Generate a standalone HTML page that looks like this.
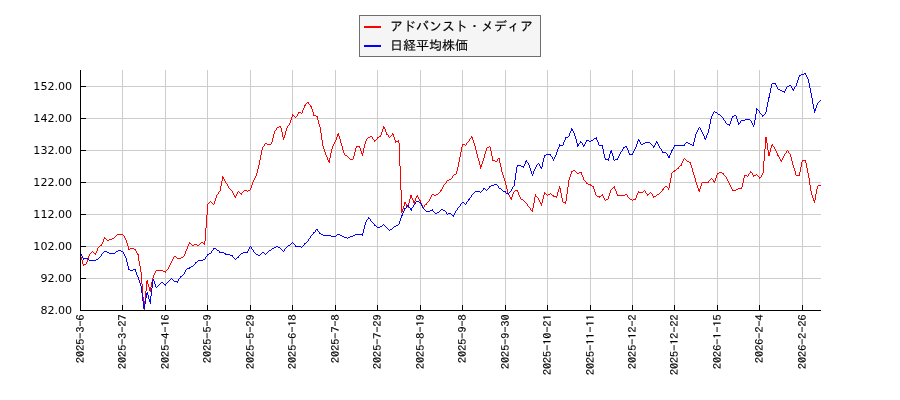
<!DOCTYPE html>
<html lang="ja"><head><meta charset="utf-8"><title>chart</title>
<style>html,body{margin:0;padding:0;background:#fff}svg{display:block}.yl{font-family:"DejaVu Sans","Liberation Sans",sans-serif;font-size:11.1px;fill:#000}.xl{font-family:"IPAGothic","Liberation Mono",monospace;font-size:12.15px;fill:#000;stroke:#000;stroke-width:0.18px}.lg{font-family:"Liberation Sans","IPAGothic","Noto Sans CJK JP",sans-serif;font-size:13px;fill:#000;stroke:#000;stroke-width:0.15px}</style></head><body>
<svg width="900" height="400" viewBox="0 0 900 400">
<rect width="900" height="400" fill="#fff"/>
<path d="M122.50,70.0 V310.5 M165.50,70.0 V310.5 M207.50,70.0 V310.5 M250.50,70.0 V310.5 M292.50,70.0 V310.5 M335.50,70.0 V310.5 M377.50,70.0 V310.5 M420.50,70.0 V310.5 M462.50,70.0 V310.5 M505.50,70.0 V310.5 M547.50,70.0 V310.5 M590.50,70.0 V310.5 M632.50,70.0 V310.5 M674.50,70.0 V310.5 M717.50,70.0 V310.5 M759.50,70.0 V310.5 M802.50,70.0 V310.5 M80.5,86.5 H821.0 M80.5,118.5 H821.0 M80.5,150.5 H821.0 M80.5,182.5 H821.0 M80.5,214.5 H821.0 M80.5,246.5 H821.0 M80.5,278.5 H821.0" stroke="#cccccc" stroke-width="1" fill="none"/>
<path d="M80,254v3h1v-3zM81,257v3h1v-3zM82,260v4h1v-4zM83,264v2h1v-2zM84,264v1h1v-1zM85,264v1h1v-1zM86,262v2h1v-2zM87,259v3h1v-3zM88,256v3h1v-3zM89,254v2h1v-2zM90,253v1h1v-1zM91,252v1h1v-1zM92,251v1h1v-1zM93,252v1h1v-1zM94,253v1h1v-1zM95,253v2h1v-2zM96,251v2h1v-2zM97,248v3h1v-3zM98,247v1h1v-1zM99,246v1h1v-1zM100,245v1h1v-1zM101,244v2h1v-2zM102,242v2h1v-2zM103,239v3h1v-3zM104,237v2h1v-2zM105,238v1h1v-1zM106,239v1h1v-1zM107,240v1h1v-1zM108,240v1h1v-1zM109,239v1h1v-1zM110,239v1h1v-1zM111,239v1h1v-1zM112,238v1h1v-1zM113,238v1h1v-1zM114,237v1h1v-1zM115,236v1h1v-1zM116,235v1h1v-1zM117,234v1h1v-1zM118,234v1h1v-1zM119,234v1h1v-1zM120,234v1h1v-1zM121,234v1h1v-1zM122,234v1h1v-1zM123,235v1h1v-1zM124,236v2h1v-2zM125,238v2h1v-2zM126,240v3h1v-3zM127,243v3h1v-3zM128,246v4h1v-4zM129,249v1h1v-1zM130,248v1h1v-1zM131,248v1h1v-1zM132,248v1h1v-1zM133,248v1h1v-1zM134,249v1h1v-1zM135,249v2h1v-2zM136,251v2h1v-2zM137,253v2h1v-2zM138,254v7h1v-7zM139,261v5h1v-5zM140,266v6h1v-6zM141,272v12h1v-12zM142,284v13h1v-13zM143,297v12h1v-12zM144,301v9h1v-9zM145,291v10h1v-10zM146,281v10h1v-10zM147,280v4h1v-4zM148,284v3h1v-3zM149,287v4h1v-4zM150,287v5h1v-5zM151,282v5h1v-5zM152,278v4h1v-4zM153,275v3h1v-3zM154,273v2h1v-2zM155,271v2h1v-2zM156,270v1h1v-1zM157,270v1h1v-1zM158,270v1h1v-1zM159,270v1h1v-1zM160,270v1h1v-1zM161,270v1h1v-1zM162,270v1h1v-1zM163,271v1h1v-1zM164,271v1h1v-1zM165,271v2h1v-2zM166,270v1h1v-1zM167,269v1h1v-1zM168,267v2h1v-2zM169,265v2h1v-2zM170,263v2h1v-2zM171,261v2h1v-2zM172,259v2h1v-2zM173,257v2h1v-2zM174,256v1h1v-1zM175,256v1h1v-1zM176,257v1h1v-1zM177,258v1h1v-1zM178,258v1h1v-1zM179,258v1h1v-1zM180,258v1h1v-1zM181,257v1h1v-1zM182,257v1h1v-1zM183,256v1h1v-1zM184,254v2h1v-2zM185,251v3h1v-3zM186,249v2h1v-2zM187,246v3h1v-3zM188,244v2h1v-2zM189,242v2h1v-2zM190,243v1h1v-1zM191,244v1h1v-1zM192,245v1h1v-1zM193,245v1h1v-1zM194,244v1h1v-1zM195,244v1h1v-1zM196,244v1h1v-1zM197,245v1h1v-1zM198,245v1h1v-1zM199,244v1h1v-1zM200,243v1h1v-1zM201,242v1h1v-1zM202,242v1h1v-1zM203,243v1h1v-1zM204,241v4h1v-4zM205,228v13h1v-13zM206,215v13h1v-13zM207,204v11h1v-11zM208,203v1h1v-1zM209,202v1h1v-1zM210,201v1h1v-1zM211,202v1h1v-1zM212,203v1h1v-1zM213,204v1h1v-1zM214,201v3h1v-3zM215,198v3h1v-3zM216,195v3h1v-3zM217,194v1h1v-1zM218,192v2h1v-2zM219,191v1h1v-1zM220,186v5h1v-5zM221,181v5h1v-5zM222,176v5h1v-5zM223,177v2h1v-2zM224,179v2h1v-2zM225,181v2h1v-2zM226,183v1h1v-1zM227,184v2h1v-2zM228,186v2h1v-2zM229,188v1h1v-1zM230,189v1h1v-1zM231,190v1h1v-1zM232,191v2h1v-2zM233,193v2h1v-2zM234,195v2h1v-2zM235,196v2h1v-2zM236,194v2h1v-2zM237,192v2h1v-2zM238,191v1h1v-1zM239,192v1h1v-1zM240,193v1h1v-1zM241,193v2h1v-2zM242,192v1h1v-1zM243,191v1h1v-1zM244,190v1h1v-1zM245,190v1h1v-1zM246,190v1h1v-1zM247,191v1h1v-1zM248,190v1h1v-1zM249,190v1h1v-1zM250,188v2h1v-2zM251,185v3h1v-3zM252,182v3h1v-3zM253,180v2h1v-2zM254,178v2h1v-2zM255,176v2h1v-2zM256,173v3h1v-3zM257,169v4h1v-4zM258,165v4h1v-4zM259,160v5h1v-5zM260,155v5h1v-5zM261,150v5h1v-5zM262,147v3h1v-3zM263,146v1h1v-1zM264,144v2h1v-2zM265,143v1h1v-1zM266,143v1h1v-1zM267,144v1h1v-1zM268,144v1h1v-1zM269,144v1h1v-1zM270,144v1h1v-1zM271,142v2h1v-2zM272,138v4h1v-4zM273,134v4h1v-4zM274,131v3h1v-3zM275,130v1h1v-1zM276,128v2h1v-2zM277,127v1h1v-1zM278,127v1h1v-1zM279,126v1h1v-1zM280,126v2h1v-2zM281,128v4h1v-4zM282,132v5h1v-5zM283,137v3h1v-3zM284,135v3h1v-3zM285,131v4h1v-4zM286,128v3h1v-3zM287,126v2h1v-2zM288,125v1h1v-1zM289,123v2h1v-2zM290,120v3h1v-3zM291,117v3h1v-3zM292,114v3h1v-3zM293,115v1h1v-1zM294,116v1h1v-1zM295,117v1h1v-1zM296,116v1h1v-1zM297,114v2h1v-2zM298,112v2h1v-2zM299,112v1h1v-1zM300,112v1h1v-1zM301,113v1h1v-1zM302,110v3h1v-3zM303,108v2h1v-2zM304,105v3h1v-3zM305,104v2h1v-2zM306,103v1h1v-1zM307,102v1h1v-1zM308,102v2h1v-2zM309,104v1h1v-1zM310,105v2h1v-2zM311,106v3h1v-3zM312,109v3h1v-3zM313,112v4h1v-4zM314,115v1h1v-1zM315,115v1h1v-1zM316,116v1h1v-1zM317,116v4h1v-4zM318,120v4h1v-4zM319,124v3h1v-3zM320,127v6h1v-6zM321,133v7h1v-7zM322,140v6h1v-6zM323,146v3h1v-3zM324,149v3h1v-3zM325,152v3h1v-3zM326,155v2h1v-2zM327,157v3h1v-3zM328,160v2h1v-2zM329,158v5h1v-5zM330,153v5h1v-5zM331,149v4h1v-4zM332,146v3h1v-3zM333,144v2h1v-2zM334,142v2h1v-2zM335,140v2h1v-2zM336,137v3h1v-3zM337,134v3h1v-3zM338,133v3h1v-3zM339,136v3h1v-3zM340,139v4h1v-4zM341,143v3h1v-3zM342,146v4h1v-4zM343,150v3h1v-3zM344,153v2h1v-2zM345,155v1h1v-1zM346,155v1h1v-1zM347,156v1h1v-1zM348,157v1h1v-1zM349,158v1h1v-1zM350,159v1h1v-1zM351,159v1h1v-1zM352,159v1h1v-1zM353,156v3h1v-3zM354,152v4h1v-4zM355,148v4h1v-4zM356,146v2h1v-2zM357,146v1h1v-1zM358,146v1h1v-1zM359,146v2h1v-2zM360,148v3h1v-3zM361,151v3h1v-3zM362,153v3h1v-3zM363,148v5h1v-5zM364,144v4h1v-4zM365,141v3h1v-3zM366,139v2h1v-2zM367,138v1h1v-1zM368,137v1h1v-1zM369,137v1h1v-1zM370,136v1h1v-1zM371,136v1h1v-1zM372,137v2h1v-2zM373,139v1h1v-1zM374,140v2h1v-2zM375,140v1h1v-1zM376,139v1h1v-1zM377,137v2h1v-2zM378,137v1h1v-1zM379,136v1h1v-1zM380,135v2h1v-2zM381,132v3h1v-3zM382,129v3h1v-3zM383,126v3h1v-3zM384,127v2h1v-2zM385,129v3h1v-3zM386,132v3h1v-3zM387,134v1h1v-1zM388,135v2h1v-2zM389,137v1h1v-1zM390,136v1h1v-1zM391,135v1h1v-1zM392,133v2h1v-2zM393,134v3h1v-3zM394,137v3h1v-3zM395,140v3h1v-3zM396,141v1h1v-1zM397,141v1h1v-1zM398,140v3h1v-3zM399,143v23h1v-23zM400,166v24h1v-24zM401,190v23h1v-23zM402,209v3h1v-3zM403,206v3h1v-3zM404,202v4h1v-4zM405,202v2h1v-2zM406,204v2h1v-2zM407,206v1h1v-1zM408,203v5h1v-5zM409,199v4h1v-4zM410,195v4h1v-4zM411,195v3h1v-3zM412,198v2h1v-2zM413,200v3h1v-3zM414,201v3h1v-3zM415,198v3h1v-3zM416,196v2h1v-2zM417,195v2h1v-2zM418,197v2h1v-2zM419,199v2h1v-2zM420,200v3h1v-3zM421,203v2h1v-2zM422,205v2h1v-2zM423,207v1h1v-1zM424,205v2h1v-2zM425,204v1h1v-1zM426,203v2h1v-2zM427,202v1h1v-1zM428,201v1h1v-1zM429,199v2h1v-2zM430,197v2h1v-2zM431,195v2h1v-2zM432,194v1h1v-1zM433,194v1h1v-1zM434,195v1h1v-1zM435,195v1h1v-1zM436,194v1h1v-1zM437,194v1h1v-1zM438,193v1h1v-1zM439,192v1h1v-1zM440,190v2h1v-2zM441,189v2h1v-2zM442,187v2h1v-2zM443,185v2h1v-2zM444,184v1h1v-1zM445,183v1h1v-1zM446,181v2h1v-2zM447,180v1h1v-1zM448,180v1h1v-1zM449,179v1h1v-1zM450,179v1h1v-1zM451,178v1h1v-1zM452,176v2h1v-2zM453,175v1h1v-1zM454,174v1h1v-1zM455,174v1h1v-1zM456,171v3h1v-3zM457,167v4h1v-4zM458,162v5h1v-5zM459,157v5h1v-5zM460,152v5h1v-5zM461,147v5h1v-5zM462,144v3h1v-3zM463,144v1h1v-1zM464,144v1h1v-1zM465,145v1h1v-1zM466,143v2h1v-2zM467,142v1h1v-1zM468,141v1h1v-1zM469,139v2h1v-2zM470,138v1h1v-1zM471,136v2h1v-2zM472,137v3h1v-3zM473,140v3h1v-3zM474,143v3h1v-3zM475,146v4h1v-4zM476,150v4h1v-4zM477,154v4h1v-4zM478,158v3h1v-3zM479,161v4h1v-4zM480,165v4h1v-4zM481,164v3h1v-3zM482,161v3h1v-3zM483,158v3h1v-3zM484,154v4h1v-4zM485,151v3h1v-3zM486,148v3h1v-3zM487,147v1h1v-1zM488,147v1h1v-1zM489,146v1h1v-1zM490,147v4h1v-4zM491,151v5h1v-5zM492,156v5h1v-5zM493,160v1h1v-1zM494,160v1h1v-1zM495,161v1h1v-1zM496,161v1h1v-1zM497,159v2h1v-2zM498,158v1h1v-1zM499,158v5h1v-5zM500,163v4h1v-4zM501,167v5h1v-5zM502,172v3h1v-3zM503,175v3h1v-3zM504,178v3h1v-3zM505,181v4h1v-4zM506,185v4h1v-4zM507,189v4h1v-4zM508,193v2h1v-2zM509,195v2h1v-2zM510,197v2h1v-2zM511,197v3h1v-3zM512,194v3h1v-3zM513,192v2h1v-2zM514,191v1h1v-1zM515,190v1h1v-1zM516,190v1h1v-1zM517,190v2h1v-2zM518,192v3h1v-3zM519,195v2h1v-2zM520,197v2h1v-2zM521,199v1h1v-1zM522,199v1h1v-1zM523,200v1h1v-1zM524,201v1h1v-1zM525,202v1h1v-1zM526,203v1h1v-1zM527,204v2h1v-2zM528,206v1h1v-1zM529,207v1h1v-1zM530,208v2h1v-2zM531,210v1h1v-1zM532,208v4h1v-4zM533,203v5h1v-5zM534,197v6h1v-6zM535,194v3h1v-3zM536,196v1h1v-1zM537,197v1h1v-1zM538,198v2h1v-2zM539,200v2h1v-2zM540,202v2h1v-2zM541,203v3h1v-3zM542,199v4h1v-4zM543,195v4h1v-4zM544,192v3h1v-3zM545,193v1h1v-1zM546,194v1h1v-1zM547,195v1h1v-1zM548,194v1h1v-1zM549,194v1h1v-1zM550,193v1h1v-1zM551,194v1h1v-1zM552,195v1h1v-1zM553,195v2h1v-2zM554,196v1h1v-1zM555,196v1h1v-1zM556,196v2h1v-2zM557,192v4h1v-4zM558,189v3h1v-3zM559,186v3h1v-3zM560,188v5h1v-5zM561,193v5h1v-5zM562,198v4h1v-4zM563,202v1h1v-1zM564,202v1h1v-1zM565,201v3h1v-3zM566,194v7h1v-7zM567,187v7h1v-7zM568,180v7h1v-7zM569,177v3h1v-3zM570,174v3h1v-3zM571,171v3h1v-3zM572,171v1h1v-1zM573,170v1h1v-1zM574,170v1h1v-1zM575,171v1h1v-1zM576,172v1h1v-1zM577,173v1h1v-1zM578,173v1h1v-1zM579,172v1h1v-1zM580,172v1h1v-1zM581,172v3h1v-3zM582,175v2h1v-2zM583,177v3h1v-3zM584,180v1h1v-1zM585,181v1h1v-1zM586,182v2h1v-2zM587,183v1h1v-1zM588,184v1h1v-1zM589,184v1h1v-1zM590,184v2h1v-2zM591,185v1h1v-1zM592,186v1h1v-1zM593,186v3h1v-3zM594,189v3h1v-3zM595,192v3h1v-3zM596,195v1h1v-1zM597,196v1h1v-1zM598,196v1h1v-1zM599,196v2h1v-2zM600,196v1h1v-1zM601,195v1h1v-1zM602,194v2h1v-2zM603,196v2h1v-2zM604,198v2h1v-2zM605,200v1h1v-1zM606,199v1h1v-1zM607,199v1h1v-1zM608,196v3h1v-3zM609,193v3h1v-3zM610,190v3h1v-3zM611,189v1h1v-1zM612,188v1h1v-1zM613,187v1h1v-1zM614,186v3h1v-3zM615,189v2h1v-2zM616,191v3h1v-3zM617,194v2h1v-2zM618,195v1h1v-1zM619,195v1h1v-1zM620,195v1h1v-1zM621,195v1h1v-1zM622,195v1h1v-1zM623,195v1h1v-1zM624,195v1h1v-1zM625,194v1h1v-1zM626,194v1h1v-1zM627,195v2h1v-2zM628,197v1h1v-1zM629,198v1h1v-1zM630,199v1h1v-1zM631,199v1h1v-1zM632,200v1h1v-1zM633,199v1h1v-1zM634,199v1h1v-1zM635,198v2h1v-2zM636,195v3h1v-3zM637,193v2h1v-2zM638,191v2h1v-2zM639,192v1h1v-1zM640,192v1h1v-1zM641,192v1h1v-1zM642,192v1h1v-1zM643,191v1h1v-1zM644,190v1h1v-1zM645,191v2h1v-2zM646,193v1h1v-1zM647,194v2h1v-2zM648,194v1h1v-1zM649,193v1h1v-1zM650,192v1h1v-1zM651,193v1h1v-1zM652,194v2h1v-2zM653,196v2h1v-2zM654,196v1h1v-1zM655,196v1h1v-1zM656,195v1h1v-1zM657,194v1h1v-1zM658,194v1h1v-1zM659,193v1h1v-1zM660,192v1h1v-1zM661,191v1h1v-1zM662,189v2h1v-2zM663,188v2h1v-2zM664,187v1h1v-1zM665,186v1h1v-1zM666,186v1h1v-1zM667,187v1h1v-1zM668,188v2h1v-2zM669,183v5h1v-5zM670,178v5h1v-5zM671,173v5h1v-5zM672,172v1h1v-1zM673,171v1h1v-1zM674,170v2h1v-2zM675,170v1h1v-1zM676,169v1h1v-1zM677,168v1h1v-1zM678,167v2h1v-2zM679,166v1h1v-1zM680,165v1h1v-1zM681,163v3h1v-3zM682,161v2h1v-2zM683,159v2h1v-2zM684,158v1h1v-1zM685,159v1h1v-1zM686,160v1h1v-1zM687,161v1h1v-1zM688,161v1h1v-1zM689,162v1h1v-1zM690,162v3h1v-3zM691,165v3h1v-3zM692,168v4h1v-4zM693,172v3h1v-3zM694,175v3h1v-3zM695,178v4h1v-4zM696,182v3h1v-3zM697,185v3h1v-3zM698,188v3h1v-3zM699,189v3h1v-3zM700,186v3h1v-3zM701,183v3h1v-3zM702,182v1h1v-1zM703,182v1h1v-1zM704,182v1h1v-1zM705,182v1h1v-1zM706,182v1h1v-1zM707,182v1h1v-1zM708,181v2h1v-2zM709,180v1h1v-1zM710,179v1h1v-1zM711,178v1h1v-1zM712,179v1h1v-1zM713,180v2h1v-2zM714,181v2h1v-2zM715,178v3h1v-3zM716,175v3h1v-3zM717,173v2h1v-2zM718,173v1h1v-1zM719,172v1h1v-1zM720,172v1h1v-1zM721,172v1h1v-1zM722,173v1h1v-1zM723,173v2h1v-2zM724,175v1h1v-1zM725,176v1h1v-1zM726,177v2h1v-2zM727,179v2h1v-2zM728,181v2h1v-2zM729,183v2h1v-2zM730,185v2h1v-2zM731,187v2h1v-2zM732,189v2h1v-2zM733,190v1h1v-1zM734,190v1h1v-1zM735,190v1h1v-1zM736,189v1h1v-1zM737,189v1h1v-1zM738,188v1h1v-1zM739,188v1h1v-1zM740,188v1h1v-1zM741,187v2h1v-2zM742,183v4h1v-4zM743,178v5h1v-5zM744,175v3h1v-3zM745,175v1h1v-1zM746,175v1h1v-1zM747,176v1h1v-1zM748,174v2h1v-2zM749,173v1h1v-1zM750,171v2h1v-2zM751,172v1h1v-1zM752,173v2h1v-2zM753,175v2h1v-2zM754,175v1h1v-1zM755,175v1h1v-1zM756,174v1h1v-1zM757,175v1h1v-1zM758,176v1h1v-1zM759,177v2h1v-2zM760,177v1h1v-1zM761,175v2h1v-2zM762,173v2h1v-2zM763,161v12h1v-12zM764,149v12h1v-12zM765,137v12h1v-12zM766,137v6h1v-6zM767,143v7h1v-7zM768,150v6h1v-6zM769,152v4h1v-4zM770,148v4h1v-4zM771,145v3h1v-3zM772,144v2h1v-2zM773,146v1h1v-1zM774,147v2h1v-2zM775,149v2h1v-2zM776,151v2h1v-2zM777,153v3h1v-3zM778,155v2h1v-2zM779,157v2h1v-2zM780,159v2h1v-2zM781,160v2h1v-2zM782,158v2h1v-2zM783,156v2h1v-2zM784,154v2h1v-2zM785,153v1h1v-1zM786,151v2h1v-2zM787,150v1h1v-1zM788,151v2h1v-2zM789,153v1h1v-1zM790,154v3h1v-3zM791,157v4h1v-4zM792,161v4h1v-4zM793,165v3h1v-3zM794,168v3h1v-3zM795,171v4h1v-4zM796,175v1h1v-1zM797,175v1h1v-1zM798,175v1h1v-1zM799,172v4h1v-4zM800,167v5h1v-5zM801,162v5h1v-5zM802,160v2h1v-2zM803,160v1h1v-1zM804,160v1h1v-1zM805,160v3h1v-3zM806,163v5h1v-5zM807,168v5h1v-5zM808,173v5h1v-5zM809,178v7h1v-7zM810,185v6h1v-6zM811,191v4h1v-4zM812,195v3h1v-3zM813,198v3h1v-3zM814,200v3h1v-3zM815,194v6h1v-6zM816,189v5h1v-5zM817,186v3h1v-3zM818,185v1h1v-1zM819,185v1h1v-1zM820,185v1h1v-1z" fill="#ff0000" shape-rendering="crispEdges"/>
<path d="M80,252v2h1v-2zM81,254v2h1v-2zM82,256v2h1v-2zM83,258v2h1v-2zM84,258v1h1v-1zM85,258v1h1v-1zM86,258v1h1v-1zM87,258v1h1v-1zM88,259v1h1v-1zM89,260v1h1v-1zM90,260v1h1v-1zM91,260v1h1v-1zM92,260v1h1v-1zM93,260v1h1v-1zM94,260v1h1v-1zM95,260v1h1v-1zM96,259v1h1v-1zM97,259v1h1v-1zM98,258v1h1v-1zM99,257v1h1v-1zM100,256v1h1v-1zM101,254v2h1v-2zM102,253v1h1v-1zM103,252v1h1v-1zM104,251v1h1v-1zM105,251v1h1v-1zM106,251v1h1v-1zM107,252v1h1v-1zM108,252v1h1v-1zM109,253v1h1v-1zM110,253v1h1v-1zM111,253v1h1v-1zM112,253v1h1v-1zM113,253v1h1v-1zM114,253v1h1v-1zM115,252v1h1v-1zM116,251v1h1v-1zM117,251v1h1v-1zM118,250v1h1v-1zM119,250v1h1v-1zM120,250v1h1v-1zM121,251v1h1v-1zM122,251v1h1v-1zM123,252v2h1v-2zM124,254v2h1v-2zM125,256v2h1v-2zM126,258v4h1v-4zM127,262v4h1v-4zM128,266v4h1v-4zM129,269v1h1v-1zM130,270v1h1v-1zM131,270v1h1v-1zM132,270v1h1v-1zM133,269v1h1v-1zM134,269v1h1v-1zM135,269v3h1v-3zM136,272v3h1v-3zM137,275v2h1v-2zM138,277v3h1v-3zM139,280v3h1v-3zM140,283v3h1v-3zM141,286v7h1v-7zM142,293v8h1v-8zM143,301v7h1v-7zM144,304v5h1v-5zM145,298v6h1v-6zM146,293v5h1v-5zM147,292v3h1v-3zM148,295v4h1v-4zM149,299v3h1v-3zM150,296v8h1v-8zM151,288v8h1v-8zM152,280v8h1v-8zM153,279v2h1v-2zM154,281v3h1v-3zM155,284v3h1v-3zM156,287v1h1v-1zM157,286v1h1v-1zM158,285v1h1v-1zM159,284v1h1v-1zM160,283v1h1v-1zM161,282v1h1v-1zM162,282v1h1v-1zM163,283v1h1v-1zM164,284v1h1v-1zM165,284v2h1v-2zM166,283v1h1v-1zM167,282v1h1v-1zM168,281v1h1v-1zM169,280v1h1v-1zM170,279v1h1v-1zM171,278v1h1v-1zM172,279v1h1v-1zM173,280v1h1v-1zM174,281v1h1v-1zM175,281v1h1v-1zM176,281v1h1v-1zM177,281v2h1v-2zM178,279v2h1v-2zM179,278v1h1v-1zM180,276v2h1v-2zM181,276v1h1v-1zM182,275v1h1v-1zM183,274v1h1v-1zM184,272v2h1v-2zM185,270v2h1v-2zM186,269v1h1v-1zM187,268v1h1v-1zM188,268v1h1v-1zM189,267v2h1v-2zM190,267v1h1v-1zM191,266v1h1v-1zM192,266v1h1v-1zM193,265v1h1v-1zM194,264v1h1v-1zM195,262v2h1v-2zM196,262v1h1v-1zM197,261v1h1v-1zM198,260v1h1v-1zM199,260v1h1v-1zM200,260v1h1v-1zM201,260v1h1v-1zM202,260v1h1v-1zM203,259v1h1v-1zM204,259v1h1v-1zM205,257v2h1v-2zM206,256v1h1v-1zM207,254v2h1v-2zM208,254v1h1v-1zM209,253v1h1v-1zM210,253v1h1v-1zM211,251v2h1v-2zM212,250v1h1v-1zM213,248v2h1v-2zM214,248v1h1v-1zM215,248v1h1v-1zM216,249v1h1v-1zM217,250v1h1v-1zM218,250v1h1v-1zM219,251v2h1v-2zM220,252v1h1v-1zM221,252v1h1v-1zM222,252v1h1v-1zM223,252v1h1v-1zM224,253v1h1v-1zM225,253v2h1v-2zM226,254v1h1v-1zM227,254v1h1v-1zM228,254v1h1v-1zM229,254v1h1v-1zM230,255v1h1v-1zM231,255v1h1v-1zM232,255v2h1v-2zM233,257v1h1v-1zM234,258v1h1v-1zM235,259v1h1v-1zM236,258v1h1v-1zM237,257v1h1v-1zM238,256v2h1v-2zM239,255v1h1v-1zM240,254v1h1v-1zM241,253v1h1v-1zM242,253v1h1v-1zM243,252v1h1v-1zM244,252v1h1v-1zM245,252v1h1v-1zM246,252v1h1v-1zM247,251v2h1v-2zM248,249v2h1v-2zM249,247v2h1v-2zM250,246v1h1v-1zM251,247v2h1v-2zM252,249v1h1v-1zM253,250v2h1v-2zM254,252v1h1v-1zM255,253v1h1v-1zM256,254v1h1v-1zM257,254v1h1v-1zM258,255v1h1v-1zM259,255v1h1v-1zM260,254v1h1v-1zM261,253v1h1v-1zM262,252v1h1v-1zM263,252v1h1v-1zM264,253v1h1v-1zM265,254v1h1v-1zM266,253v1h1v-1zM267,252v1h1v-1zM268,251v1h1v-1zM269,250v1h1v-1zM270,250v1h1v-1zM271,249v1h1v-1zM272,248v1h1v-1zM273,248v1h1v-1zM274,247v1h1v-1zM275,247v1h1v-1zM276,246v1h1v-1zM277,246v1h1v-1zM278,247v1h1v-1zM279,247v1h1v-1zM280,248v1h1v-1zM281,249v1h1v-1zM282,250v1h1v-1zM283,251v1h1v-1zM284,249v2h1v-2zM285,248v1h1v-1zM286,247v1h1v-1zM287,246v1h1v-1zM288,245v1h1v-1zM289,245v1h1v-1zM290,244v1h1v-1zM291,243v1h1v-1zM292,242v1h1v-1zM293,243v1h1v-1zM294,244v1h1v-1zM295,245v2h1v-2zM296,246v1h1v-1zM297,246v1h1v-1zM298,246v1h1v-1zM299,246v1h1v-1zM300,246v1h1v-1zM301,247v1h1v-1zM302,246v1h1v-1zM303,245v1h1v-1zM304,243v2h1v-2zM305,243v1h1v-1zM306,242v1h1v-1zM307,241v1h1v-1zM308,239v2h1v-2zM309,238v1h1v-1zM310,236v2h1v-2zM311,235v1h1v-1zM312,234v1h1v-1zM313,232v2h1v-2zM314,232v1h1v-1zM315,230v2h1v-2zM316,229v1h1v-1zM317,229v2h1v-2zM318,231v1h1v-1zM319,232v2h1v-2zM320,233v1h1v-1zM321,234v1h1v-1zM322,234v1h1v-1zM323,235v1h1v-1zM324,235v1h1v-1zM325,235v1h1v-1zM326,235v1h1v-1zM327,235v1h1v-1zM328,235v1h1v-1zM329,235v1h1v-1zM330,235v1h1v-1zM331,236v1h1v-1zM332,236v1h1v-1zM333,236v1h1v-1zM334,236v1h1v-1zM335,236v1h1v-1zM336,235v1h1v-1zM337,234v1h1v-1zM338,234v1h1v-1zM339,234v1h1v-1zM340,235v1h1v-1zM341,235v1h1v-1zM342,236v1h1v-1zM343,236v1h1v-1zM344,237v1h1v-1zM345,237v1h1v-1zM346,237v1h1v-1zM347,238v1h1v-1zM348,237v1h1v-1zM349,237v1h1v-1zM350,236v1h1v-1zM351,236v1h1v-1zM352,236v1h1v-1zM353,235v1h1v-1zM354,235v1h1v-1zM355,234v1h1v-1zM356,234v1h1v-1zM357,234v1h1v-1zM358,234v1h1v-1zM359,234v1h1v-1zM360,234v1h1v-1zM361,234v1h1v-1zM362,233v3h1v-3zM363,229v4h1v-4zM364,225v4h1v-4zM365,222v3h1v-3zM366,220v2h1v-2zM367,219v1h1v-1zM368,217v2h1v-2zM369,218v1h1v-1zM370,219v2h1v-2zM371,221v1h1v-1zM372,222v1h1v-1zM373,223v1h1v-1zM374,224v2h1v-2zM375,225v1h1v-1zM376,226v1h1v-1zM377,227v1h1v-1zM378,227v1h1v-1zM379,227v1h1v-1zM380,226v1h1v-1zM381,226v1h1v-1zM382,225v1h1v-1zM383,224v1h1v-1zM384,225v1h1v-1zM385,226v1h1v-1zM386,227v1h1v-1zM387,228v1h1v-1zM388,229v1h1v-1zM389,230v1h1v-1zM390,229v1h1v-1zM391,229v1h1v-1zM392,228v1h1v-1zM393,227v1h1v-1zM394,226v1h1v-1zM395,226v1h1v-1zM396,225v1h1v-1zM397,225v1h1v-1zM398,224v1h1v-1zM399,221v3h1v-3zM400,218v3h1v-3zM401,215v3h1v-3zM402,213v3h1v-3zM403,211v2h1v-2zM404,208v3h1v-3zM405,208v1h1v-1zM406,206v2h1v-2zM407,205v1h1v-1zM408,205v2h1v-2zM409,207v1h1v-1zM410,208v2h1v-2zM411,208v3h1v-3zM412,207v1h1v-1zM413,205v2h1v-2zM414,204v1h1v-1zM415,202v2h1v-2zM416,201v1h1v-1zM417,201v1h1v-1zM418,201v1h1v-1zM419,202v1h1v-1zM420,202v2h1v-2zM421,204v2h1v-2zM422,206v2h1v-2zM423,208v1h1v-1zM424,209v1h1v-1zM425,210v1h1v-1zM426,211v1h1v-1zM427,211v1h1v-1zM428,211v1h1v-1zM429,211v1h1v-1zM430,210v1h1v-1zM431,210v1h1v-1zM432,209v2h1v-2zM433,211v1h1v-1zM434,212v1h1v-1zM435,213v1h1v-1zM436,213v1h1v-1zM437,212v1h1v-1zM438,212v1h1v-1zM439,211v1h1v-1zM440,210v1h1v-1zM441,209v1h1v-1zM442,209v1h1v-1zM443,210v1h1v-1zM444,210v1h1v-1zM445,211v1h1v-1zM446,212v2h1v-2zM447,214v1h1v-1zM448,213v1h1v-1zM449,213v1h1v-1zM450,213v1h1v-1zM451,214v1h1v-1zM452,215v1h1v-1zM453,215v2h1v-2zM454,213v2h1v-2zM455,211v2h1v-2zM456,210v1h1v-1zM457,208v2h1v-2zM458,207v1h1v-1zM459,206v1h1v-1zM460,204v2h1v-2zM461,203v1h1v-1zM462,202v1h1v-1zM463,202v1h1v-1zM464,203v1h1v-1zM465,204v1h1v-1zM466,202v2h1v-2zM467,201v1h1v-1zM468,199v2h1v-2zM469,198v2h1v-2zM470,197v1h1v-1zM471,195v2h1v-2zM472,194v1h1v-1zM473,193v1h1v-1zM474,192v1h1v-1zM475,191v1h1v-1zM476,191v1h1v-1zM477,191v1h1v-1zM478,191v1h1v-1zM479,191v1h1v-1zM480,192v1h1v-1zM481,191v1h1v-1zM482,190v1h1v-1zM483,188v2h1v-2zM484,188v1h1v-1zM485,189v1h1v-1zM486,190v1h1v-1zM487,189v1h1v-1zM488,188v1h1v-1zM489,186v2h1v-2zM490,186v1h1v-1zM491,185v1h1v-1zM492,185v1h1v-1zM493,185v1h1v-1zM494,184v1h1v-1zM495,184v1h1v-1zM496,184v1h1v-1zM497,185v1h1v-1zM498,186v2h1v-2zM499,188v1h1v-1zM500,188v1h1v-1zM501,189v1h1v-1zM502,190v1h1v-1zM503,191v1h1v-1zM504,191v1h1v-1zM505,191v2h1v-2zM506,193v1h1v-1zM507,193v1h1v-1zM508,193v2h1v-2zM509,192v1h1v-1zM510,191v1h1v-1zM511,189v2h1v-2zM512,187v2h1v-2zM513,186v1h1v-1zM514,180v6h1v-6zM515,173v7h1v-7zM516,167v6h1v-6zM517,165v2h1v-2zM518,165v1h1v-1zM519,165v1h1v-1zM520,165v1h1v-1zM521,166v1h1v-1zM522,166v1h1v-1zM523,166v2h1v-2zM524,164v2h1v-2zM525,161v3h1v-3zM526,160v2h1v-2zM527,162v1h1v-1zM528,163v2h1v-2zM529,165v3h1v-3zM530,168v3h1v-3zM531,171v3h1v-3zM532,174v2h1v-2zM533,171v3h1v-3zM534,169v2h1v-2zM535,167v2h1v-2zM536,165v2h1v-2zM537,164v1h1v-1zM538,163v1h1v-1zM539,164v2h1v-2zM540,166v2h1v-2zM541,167v2h1v-2zM542,162v5h1v-5zM543,158v4h1v-4zM544,155v3h1v-3zM545,155v1h1v-1zM546,154v1h1v-1zM547,154v1h1v-1zM548,154v1h1v-1zM549,154v1h1v-1zM550,154v2h1v-2zM551,156v1h1v-1zM552,157v2h1v-2zM553,159v2h1v-2zM554,157v2h1v-2zM555,155v2h1v-2zM556,152v3h1v-3zM557,149v3h1v-3zM558,147v2h1v-2zM559,144v3h1v-3zM560,145v1h1v-1zM561,145v1h1v-1zM562,145v1h1v-1zM563,142v3h1v-3zM564,140v2h1v-2zM565,137v3h1v-3zM566,137v1h1v-1zM567,137v1h1v-1zM568,136v1h1v-1zM569,133v3h1v-3zM570,131v2h1v-2zM571,128v3h1v-3zM572,129v2h1v-2zM573,131v2h1v-2zM574,133v3h1v-3zM575,136v3h1v-3zM576,139v4h1v-4zM577,143v4h1v-4zM578,144v2h1v-2zM579,143v1h1v-1zM580,141v2h1v-2zM581,142v1h1v-1zM582,143v2h1v-2zM583,145v2h1v-2zM584,144v2h1v-2zM585,142v2h1v-2zM586,140v2h1v-2zM587,140v1h1v-1zM588,140v1h1v-1zM589,141v1h1v-1zM590,141v1h1v-1zM591,140v1h1v-1zM592,140v1h1v-1zM593,139v1h1v-1zM594,138v1h1v-1zM595,138v1h1v-1zM596,137v3h1v-3zM597,140v2h1v-2zM598,142v3h1v-3zM599,145v1h1v-1zM600,145v1h1v-1zM601,145v1h1v-1zM602,145v4h1v-4zM603,149v5h1v-5zM604,154v4h1v-4zM605,158v2h1v-2zM606,159v1h1v-1zM607,159v1h1v-1zM608,158v3h1v-3zM609,154v4h1v-4zM610,151v3h1v-3zM611,150v3h1v-3zM612,153v3h1v-3zM613,156v4h1v-4zM614,160v1h1v-1zM615,159v1h1v-1zM616,159v1h1v-1zM617,158v2h1v-2zM618,156v2h1v-2zM619,154v2h1v-2zM620,152v2h1v-2zM621,151v1h1v-1zM622,149v2h1v-2zM623,147v2h1v-2zM624,147v1h1v-1zM625,146v1h1v-1zM626,146v2h1v-2zM627,148v2h1v-2zM628,150v3h1v-3zM629,153v2h1v-2zM630,154v1h1v-1zM631,154v1h1v-1zM632,153v2h1v-2zM633,151v2h1v-2zM634,149v2h1v-2zM635,147v2h1v-2zM636,144v3h1v-3zM637,141v3h1v-3zM638,139v2h1v-2zM639,140v2h1v-2zM640,142v2h1v-2zM641,144v1h1v-1zM642,144v1h1v-1zM643,143v1h1v-1zM644,143v1h1v-1zM645,142v1h1v-1zM646,142v1h1v-1zM647,142v1h1v-1zM648,142v1h1v-1zM649,142v1h1v-1zM650,143v1h1v-1zM651,144v1h1v-1zM652,145v1h1v-1zM653,146v2h1v-2zM654,145v2h1v-2zM655,143v2h1v-2zM656,141v2h1v-2zM657,142v2h1v-2zM658,144v2h1v-2zM659,146v2h1v-2zM660,148v1h1v-1zM661,149v2h1v-2zM662,151v2h1v-2zM663,152v1h1v-1zM664,152v1h1v-1zM665,152v1h1v-1zM666,153v1h1v-1zM667,154v2h1v-2zM668,156v2h1v-2zM669,155v3h1v-3zM670,153v2h1v-2zM671,150v3h1v-3zM672,149v2h1v-2zM673,147v2h1v-2zM674,145v2h1v-2zM675,145v1h1v-1zM676,145v1h1v-1zM677,145v1h1v-1zM678,145v1h1v-1zM679,145v1h1v-1zM680,145v1h1v-1zM681,145v1h1v-1zM682,145v1h1v-1zM683,145v1h1v-1zM684,144v2h1v-2zM685,143v1h1v-1zM686,142v1h1v-1zM687,142v1h1v-1zM688,143v1h1v-1zM689,143v1h1v-1zM690,144v1h1v-1zM691,144v1h1v-1zM692,145v1h1v-1zM693,142v4h1v-4zM694,138v4h1v-4zM695,134v4h1v-4zM696,132v2h1v-2zM697,130v2h1v-2zM698,128v2h1v-2zM699,127v1h1v-1zM700,128v2h1v-2zM701,130v2h1v-2zM702,132v2h1v-2zM703,134v2h1v-2zM704,136v3h1v-3zM705,138v2h1v-2zM706,135v3h1v-3zM707,133v2h1v-2zM708,129v4h1v-4zM709,124v5h1v-5zM710,119v5h1v-5zM711,116v3h1v-3zM712,114v2h1v-2zM713,112v2h1v-2zM714,111v1h1v-1zM715,112v1h1v-1zM716,112v1h1v-1zM717,113v1h1v-1zM718,114v1h1v-1zM719,114v1h1v-1zM720,115v1h1v-1zM721,116v1h1v-1zM722,117v1h1v-1zM723,118v2h1v-2zM724,120v1h1v-1zM725,121v2h1v-2zM726,123v1h1v-1zM727,124v1h1v-1zM728,124v1h1v-1zM729,124v2h1v-2zM730,121v3h1v-3zM731,118v3h1v-3zM732,116v2h1v-2zM733,116v1h1v-1zM734,115v1h1v-1zM735,115v1h1v-1zM736,116v3h1v-3zM737,119v3h1v-3zM738,122v3h1v-3zM739,123v1h1v-1zM740,121v2h1v-2zM741,120v1h1v-1zM742,120v1h1v-1zM743,120v1h1v-1zM744,120v1h1v-1zM745,119v1h1v-1zM746,119v1h1v-1zM747,119v1h1v-1zM748,119v1h1v-1zM749,119v1h1v-1zM750,120v1h1v-1zM751,121v2h1v-2zM752,123v2h1v-2zM753,125v2h1v-2zM754,120v5h1v-5zM755,114v6h1v-6zM756,108v6h1v-6zM757,109v1h1v-1zM758,110v1h1v-1zM759,111v2h1v-2zM760,113v1h1v-1zM761,114v1h1v-1zM762,115v2h1v-2zM763,115v1h1v-1zM764,114v1h1v-1zM765,112v2h1v-2zM766,107v5h1v-5zM767,102v5h1v-5zM768,97v5h1v-5zM769,93v5h1v-5zM770,88v5h1v-5zM771,84v4h1v-4zM772,83v1h1v-1zM773,83v1h1v-1zM774,83v1h1v-1zM775,83v2h1v-2zM776,85v2h1v-2zM777,87v2h1v-2zM778,89v1h1v-1zM779,89v1h1v-1zM780,90v1h1v-1zM781,90v1h1v-1zM782,91v1h1v-1zM783,91v1h1v-1zM784,91v2h1v-2zM785,89v2h1v-2zM786,87v2h1v-2zM787,86v1h1v-1zM788,86v1h1v-1zM789,85v1h1v-1zM790,85v1h1v-1zM791,86v2h1v-2zM792,88v2h1v-2zM793,89v2h1v-2zM794,87v2h1v-2zM795,86v1h1v-1zM796,83v3h1v-3zM797,80v3h1v-3zM798,77v3h1v-3zM799,75v2h1v-2zM800,75v1h1v-1zM801,74v1h1v-1zM802,74v1h1v-1zM803,74v1h1v-1zM804,73v1h1v-1zM805,73v2h1v-2zM806,75v2h1v-2zM807,77v2h1v-2zM808,79v4h1v-4zM809,83v5h1v-5zM810,88v5h1v-5zM811,93v5h1v-5zM812,98v6h1v-6zM813,104v5h1v-5zM814,109v4h1v-4zM815,108v3h1v-3zM816,105v3h1v-3zM817,103v2h1v-2zM818,102v1h1v-1zM819,101v1h1v-1zM820,100v1h1v-1z" fill="#0000ff" shape-rendering="crispEdges"/>
<path d="M80.50,310.5 v-5.5 M122.50,310.5 v-5.5 M165.50,310.5 v-5.5 M207.50,310.5 v-5.5 M250.50,310.5 v-5.5 M292.50,310.5 v-5.5 M335.50,310.5 v-5.5 M377.50,310.5 v-5.5 M420.50,310.5 v-5.5 M462.50,310.5 v-5.5 M505.50,310.5 v-5.5 M547.50,310.5 v-5.5 M590.50,310.5 v-5.5 M632.50,310.5 v-5.5 M674.50,310.5 v-5.5 M717.50,310.5 v-5.5 M759.50,310.5 v-5.5 M802.50,310.5 v-5.5 M80.5,86.5 h5.5 M80.5,118.5 h5.5 M80.5,150.5 h5.5 M80.5,182.5 h5.5 M80.5,214.5 h5.5 M80.5,246.5 h5.5 M80.5,278.5 h5.5 M80.5,310.5 h5.5" stroke="#000" stroke-width="1" fill="none"/>
<path d="M80.5,70.0 V311.0 M80.0,310.5 H821.0" stroke="#000" stroke-width="1" fill="none"/>
<text class="yl" x="72.2" y="90.0" text-anchor="end">152.00</text>
<text class="yl" x="72.2" y="122.0" text-anchor="end">142.00</text>
<text class="yl" x="72.2" y="154.0" text-anchor="end">132.00</text>
<text class="yl" x="72.2" y="186.0" text-anchor="end">122.00</text>
<text class="yl" x="72.2" y="218.0" text-anchor="end">112.00</text>
<text class="yl" x="72.2" y="250.0" text-anchor="end">102.00</text>
<text class="yl" x="72.2" y="282.0" text-anchor="end">92.00</text>
<text class="yl" x="72.2" y="314.0" text-anchor="end">82.00</text>
<text class="xl" transform="translate(83.88,314.4) rotate(-90) scale(1,0.85)" text-anchor="end">2025-3-6</text>
<text class="xl" transform="translate(126.35,314.4) rotate(-90) scale(1,0.85)" text-anchor="end">2025-3-27</text>
<text class="xl" transform="translate(168.82,314.4) rotate(-90) scale(1,0.85)" text-anchor="end">2025-4-16</text>
<text class="xl" transform="translate(211.29,314.4) rotate(-90) scale(1,0.85)" text-anchor="end">2025-5-9</text>
<text class="xl" transform="translate(253.76,314.4) rotate(-90) scale(1,0.85)" text-anchor="end">2025-5-29</text>
<text class="xl" transform="translate(296.23,314.4) rotate(-90) scale(1,0.85)" text-anchor="end">2025-6-18</text>
<text class="xl" transform="translate(338.70,314.4) rotate(-90) scale(1,0.85)" text-anchor="end">2025-7-8</text>
<text class="xl" transform="translate(381.17,314.4) rotate(-90) scale(1,0.85)" text-anchor="end">2025-7-29</text>
<text class="xl" transform="translate(423.64,314.4) rotate(-90) scale(1,0.85)" text-anchor="end">2025-8-19</text>
<text class="xl" transform="translate(466.12,314.4) rotate(-90) scale(1,0.85)" text-anchor="end">2025-9-8</text>
<text class="xl" transform="translate(508.59,314.4) rotate(-90) scale(1,0.85)" text-anchor="end">2025-9-30</text>
<text class="xl" transform="translate(551.06,314.4) rotate(-90) scale(1,0.85)" text-anchor="end">2025-10-21</text>
<text class="xl" transform="translate(593.53,314.4) rotate(-90) scale(1,0.85)" text-anchor="end">2025-11-11</text>
<text class="xl" transform="translate(636.00,314.4) rotate(-90) scale(1,0.85)" text-anchor="end">2025-12-2</text>
<text class="xl" transform="translate(678.47,314.4) rotate(-90) scale(1,0.85)" text-anchor="end">2025-12-22</text>
<text class="xl" transform="translate(720.94,314.4) rotate(-90) scale(1,0.85)" text-anchor="end">2026-1-15</text>
<text class="xl" transform="translate(763.41,314.4) rotate(-90) scale(1,0.85)" text-anchor="end">2026-2-4</text>
<text class="xl" transform="translate(805.88,314.4) rotate(-90) scale(1,0.85)" text-anchor="end">2026-2-26</text>
<rect x="359.5" y="15.5" width="181" height="41" fill="#f5f5f5" stroke="#6e6e6e" stroke-width="1"/>
<path d="M364,27 H381" stroke="#ff0000" stroke-width="2" shape-rendering="crispEdges"/>
<path d="M364,46 H381" stroke="#0000ff" stroke-width="2" shape-rendering="crispEdges"/>
<text class="lg" x="390" y="31.0">アドバンスト・メディア</text>
<text class="lg" x="390" y="49.9">日経平均株価</text>
</svg></body></html>
